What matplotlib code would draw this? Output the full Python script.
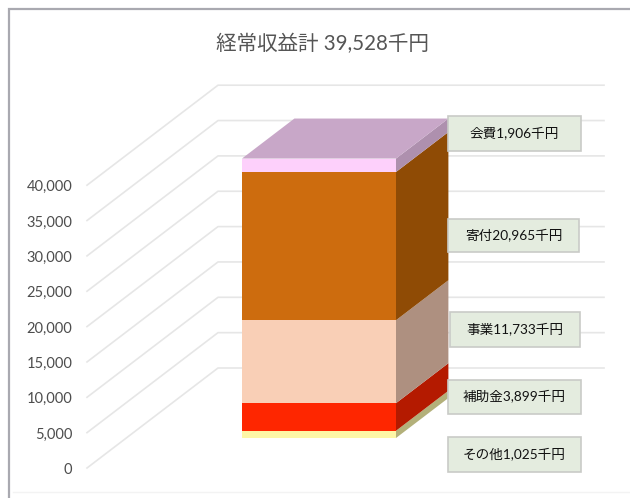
import matplotlib
matplotlib.use("Agg")
import matplotlib.pyplot as plt
from matplotlib.patches import Polygon, Rectangle

plt.rcParams['font.family'] = ['Lato', 'Noto Sans CJK JP', 'DejaVu Sans']

# Datos del gráfico (de abajo hacia arriba)
names = ["その他", "補助金", "事業", "寄付", "会費"]
values = [1025, 3899, 11733, 20965, 1906]
ticks = [0, 5000, 10000, 15000, 20000, 25000, 30000, 35000, 40000]
title = "経常収益計 39,528千円"

front_colors = ["#fdf6a6", "#fe2600", "#f9cfb6", "#cd6c0e", "#fdd0fb"]
side_colors = ["#b3b07a", "#b41a00", "#ae9080", "#8f4b05", "#ae90ae"]
top_color = "#c8a7c8"

# Cajas de etiquetas: x, y superior, ancho, alto (en píxeles)
label_boxes = [(448, 437, 133, 35), (448, 380, 133, 34), (449.5, 312, 130.5, 34.5),
               (448, 219.5, 131, 33), (448, 116, 133, 35)]

# Escala: píxeles por unidad y desplazamiento de la profundidad
W, H = 630, 498
px_per_unit = 35.35 / 5000
floor_y = 468
depth_px_x, depth_px_y = 131, 100
depth_units = depth_px_y / px_per_unit

fig = plt.figure(figsize=(W / 100, H / 100), dpi=100)
ax = fig.add_axes([0, 0, 1, 1])
ax.set_xlim(0, W)
ax.set_ylim((floor_y - H) / px_per_unit, floor_y / px_per_unit)
ax.axis("off")


def pt(x, depth, value):
    # Proyección oblicua: x en el frente, profundidad 0-1, valor en y
    return (x + depth * depth_px_x, value + depth * depth_units)


def py(pixel_y):
    return (floor_y - pixel_y) / px_per_unit


# Marco exterior
frame = "#a9a9b0"
ax.plot([9, 9, W], [py(H), py(9), py(9)], color=frame, lw=1.6, zorder=1, solid_joinstyle="miter")
ax.plot([13, W], [py(492), py(492)], color="#f3f3f3", lw=1, zorder=1)

# Rejilla: pared lateral y pared del fondo
for t in ticks:
    xs, ys = zip(pt(87, 0, t), pt(87, 1, t), (604, t + depth_units))
    ax.plot(xs, ys, color="#e6e6e6", lw=1.2, zorder=2)
    ax.text(72.5, t - 2 / px_per_unit, f"{t:,}", ha="right", va="center",
            fontsize=10.5, color="#4d4d4d", zorder=3)

ax.text(322, py(44), title, ha="center", va="center", fontsize=14.8, color="#555555", zorder=3)

# Barra apilada en 3D
x0, x1 = 242, 396
d_front, d_back = 0.3, 0.7
base = 0
shift = (d_back - d_front) * depth_px_x
for val, fc, sc in zip(values, front_colors, side_colors):
    top = base + val
    y0 = base + d_front * depth_units
    y1 = top + d_front * depth_units
    ax.add_patch(Rectangle((x0, y0), x1 - x0, val, fc=fc, ec="none", zorder=4))
    side = [(x1, y0), (x1, y1),
            (x1 + shift, top + d_back * depth_units),
            (x1 + shift, base + d_back * depth_units)]
    ax.add_patch(Polygon(side, fc=sc, ec="none", zorder=4))
    base = top

ax.add_patch(Polygon([(x0, base + d_front * depth_units), (x1, base + d_front * depth_units),
                      (x1 + shift, base + d_back * depth_units), (x0 + shift, base + d_back * depth_units)],
                     fc=top_color, ec="none", zorder=4))

# Etiquetas con el valor de cada segmento
for name, val, (bx, by, bw, bh) in zip(names, values, label_boxes):
    ax.add_patch(Rectangle((bx, py(by + bh)), bw, bh / px_per_unit,
                           fc="#e4ecdf", ec="#c9cbc7", lw=1.2, zorder=5))
    ax.text(bx + bw / 2, py(by + bh / 2), f"{name}{val:,}千円", ha="center", va="center",
            fontsize=9.8, color="#111111", zorder=6)

fig.savefig("out.png", dpi=100)
